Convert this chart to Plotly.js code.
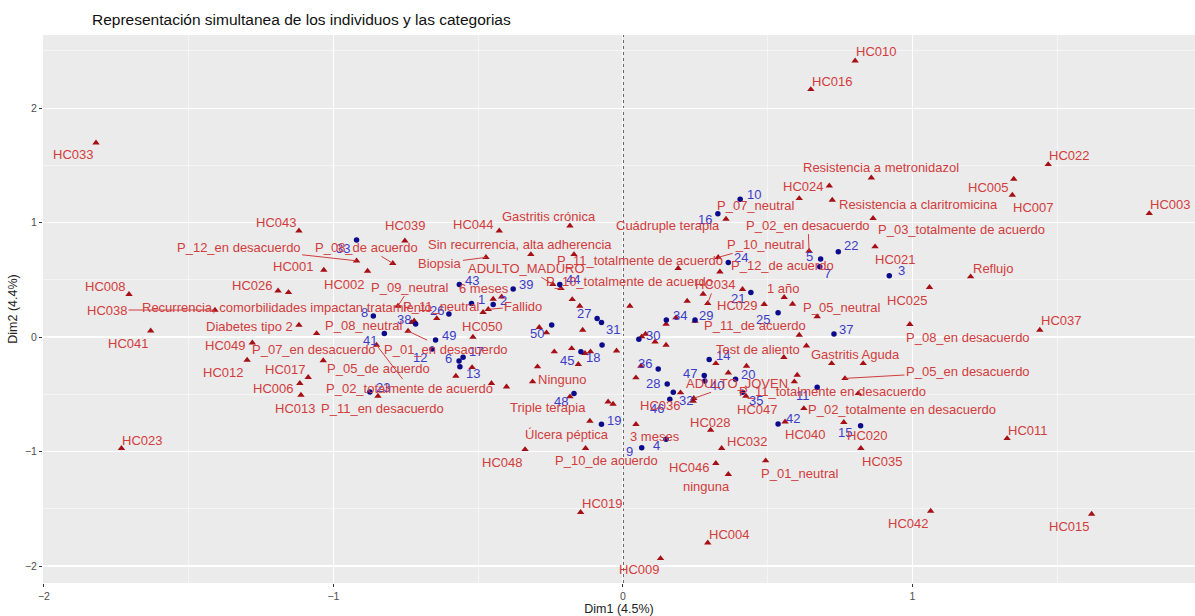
<!DOCTYPE html>
<html>
<head>
<meta charset="utf-8">
<script src="https://cdn.plot.ly/plotly-3.0.1.min.js"></script>
<style>html,body{margin:0;padding:0;background:#fff;}#chart{width:1195px;height:616px;}</style>
</head>
<body>
<div id="chart"></div>
<script>
// ---- Categories / supplementary individuals (red triangles) ----
const catNames = ["HC033","HC010","HC016","HC022","Resistencia a metronidazol","HC024","HC005","HC007","Resistencia a claritromicina","HC003",
"P_03_totalmente de acuerdo","HC021","Reflujo","HC025","P_08_en desacuerdo","HC037","P_05_neutral","P_02_en desacuerdo","Cuádruple terapia","P_07_neutral",
"P_10_neutral","P_12_de acuerdo","HC034","1 año","HC029","P_11_de acuerdo","Test de aliento","Gastritis Aguda","P_05_en desacuerdo","ADULTO_JOVEN",
"P_11_totalmente en desacuerdo","P_02_totalmente en desacuerdo","HC047","HC040","HC020","HC035","HC011","HC042","HC015","HC023",
"HC019","HC004","HC009","HC048","P_10_de acuerdo","Úlcera péptica","3 meses","HC028","HC032","HC046",
"ninguna","P_01_neutral","HC036","Triple terapia","Ninguno","HC050","Fallido","6 meses","ADULTO_MADURO","P_10_totalmente de acuerdo",
"P_11_totalmente de acuerdo","Sin recurrencia, alta adherencia","Biopsia","HC044","Gastritis crónica","HC039","HC043","P_12_en desacuerdo","P_08_de acuerdo","HC001",
"HC002","HC026","HC008","HC038","Recurrencia, comorbilidades impactan tratamiento","P_11_neutral","P_09_neutral","Diabetes tipo 2","P_08_neutral","P_01_en desacuerdo",
"HC041","HC049","P_07_en desacuerdo","P_02_totalmente de acuerdo","P_05_de acuerdo","HC017","HC012","HC006","HC013","P_11_en desacuerdo"];
const catDim1 = [-1.820,0.802,0.649,1.469,0.858,0.713,1.350,1.345,0.723,1.818,
0.864,0.871,1.201,1.059,0.991,1.440,0.671,0.643,0.356,0.609,
0.329,0.335,0.293,0.557,0.488,0.609,0.634,0.721,0.767,0.245,
0.813,0.625,0.425,0.560,0.763,0.822,1.327,1.063,1.619,-1.732,
-0.146,0.293,0.130,-0.338,-0.129,-0.114,0.045,0.303,0.341,0.321,
0.364,0.493,0.243,-0.051,-0.312,-0.518,-0.465,-0.419,-0.242,-0.214,
-0.169,-0.318,-0.473,-0.427,-0.183,-0.753,-1.119,-0.920,-0.795,-1.033,
-0.882,-1.191,-1.706,-1.409,-0.643,-0.721,-0.777,-1.119,-0.730,-0.742,
-1.631,-1.280,-1.058,-0.851,-1.035,-1.087,-1.298,-1.116,-1.112,-0.846];
const catDim2 = [1.697,2.413,2.163,1.508,1.391,1.321,1.380,1.240,1.197,1.080,
1.037,0.789,0.527,0.434,0.111,0.061,0.179,0.751,1.031,1.211,
0.696,0.570,0.294,0.347,0.286,0.017,-0.076,-0.230,-0.361,-0.535,
-0.492,-0.623,-0.515,-0.740,-0.745,-0.972,-0.885,-1.520,-1.546,-0.972,
-1.531,-1.797,-1.933,-0.981,-0.972,-0.734,-0.762,-0.812,-0.972,-1.103,
-1.199,-1.080,-0.559,-0.565,-0.390,0.000,0.242,0.352,0.460,0.425,
0.722,0.722,0.696,0.928,0.972,0.841,0.928,0.666,0.644,0.585,
0.576,0.404,0.373,0.236,0.163,0.142,0.271,0.105,0.128,0.052,
0.055,-0.050,0.032,-0.070,-0.205,-0.352,-0.201,-0.404,-0.507,-0.515];

// red triangles whose labels were hidden by overlap
const hiddenCatDim1 = [-1.155,0.191,0.277,0.222,0.413,0.586,0.024,0.249,0.149,0.183,
0.065,0.078,0.111,0.149,-0.175,-0.149,-0.139,-0.289,-0.264,-0.448,
-0.483,-0.112,-0.131,-0.022,-0.177,-0.237,-0.154,-0.295,-0.521,-0.577,
-0.454,-0.402,0.062,0.045,0.199,-0.183,-0.034,0.321,0.364,0.427,
0.602,0.592,0.556,0.830];
const hiddenCatDim2 = [0.390,0.600,0.376,0.314,0.417,0.288,0.271,0.140,0.114,0.169,
0.003,0.026,-0.041,-0.070,0.329,0.271,0.061,0.085,0.038,0.332,
0.216,-0.128,-0.142,-0.120,-0.099,-0.128,-0.238,-0.259,-0.265,-0.341,
-0.404,-0.434,-0.253,-0.355,-0.486,-0.521,-0.585,-0.230,-0.312,-0.253,
-0.332,-0.390,-0.177,-0.230];

// ---- Individuals (blue points) ----
const indNames = ["1","2","3","4","5","6","7","8","9","10","11","12","13","14","15","16","17","18","19","20",
"21","22","23","24","25","26","27","28","29","30","31","32","33","34","35","36","37","38","39","40",
"41","42","43","44","45","46","47","48","49","50"];
const indDim1 = [-0.523,-0.448,0.920,0.149,0.683,-0.566,0.680,-0.862,0.065,0.405,
0.671,-0.659,-0.563,0.298,0.821,0.328,-0.552,-0.072,-0.074,0.389,
0.442,0.744,-0.874,0.364,0.536,-0.601,-0.089,0.153,0.249,0.055,
-0.074,0.174,-0.920,0.150,0.413,0.122,0.729,-0.716,-0.379,0.283,
-0.824,0.536,-0.565,-0.218,-0.145,0.162,0.281,-0.169,-0.647,-0.246];
const indDim2 = [0.294,0.284,0.535,-0.893,0.681,-0.210,0.614,0.183,-0.967,1.203,
-0.439,-0.105,-0.259,-0.195,-0.775,1.077,-0.177,-0.070,-0.762,-0.369,
0.390,0.745,-0.480,0.652,0.212,0.201,0.163,-0.411,0.148,-0.020,
0.127,-0.483,0.847,0.148,-0.483,-0.279,0.026,0.114,0.419,-0.384,
0.032,-0.760,0.460,0.460,-0.128,-0.544,-0.336,-0.492,-0.026,0.105];

// ---- label placement (pixel offsets of label centre from its point; dy downwards) ----
const catLabelDX = [-23,21,21,21,10,-26,-26,21,86,21,
88,20,22,-23,58,21,24,-1,-58,-44,
47,63,7,-1,-27,-44,-48,24,123,43,
-26,98,11,20,23,21,21,-23,-23,21,
21,21,-22,-23,21,-23,19,-1,25,-27,
-22,34,-33,-60,29,9,35,-18,-26,69,
66,-11,-46,-26,-21,0,-23,-118,-26,-31,
-24,-26,-24,-108,-150,27,12,-49,-48,38,
-23,-27,-3,33,55,-23,-24,-27,-6,5];
const catLabelDY = [12,-9,-8,-9,-10,1,8,12,4,-9,
11,13,-8,13,13,-10,-9,-26,6,7,
-13,-6,-19,-9,1,-10,4,-9,-7,-15,
-2,1,13,13,13,13,-8,12,12,-8,
-9,-8,11,13,12,13,12,-8,-7,4,
12,13,4,6,-2,-11,-3,-8,-16,-7,
6,-10,6,-6,-9,-15,-8,-13,-16,-4,
13,-5,-8,0,-11,-14,-19,1,3,18,
13,3,16,43,8,-8,12,5,13,12];
const catSegment = ["P_02_en desacuerdo","P_10_neutral","HC034","P_05_en desacuerdo","ADULTO_JOVEN","Fallido","ADULTO_MADURO",
"Biopsia","P_12_en desacuerdo","P_08_de acuerdo","HC038","P_09_neutral","P_01_en desacuerdo","P_02_totalmente de acuerdo"];
const indLabelDX = [10,10,12,-10,-11,-11,8,-9,-12,14,-14,-12,13,14,-16,-13,13,-9,13,12,
-13,13,13,13,-15,-12,-13,-14,11,14,12,13,-14,14,14,-13,12,-12,13,12,
-14,15,13,13,-14,-13,-14,-13,13,-15];
const indLabelDY = [-4,-4,-5,6,-3,-3,7,-4,4,-5,8,8,7,-4,7,6,-6,12,-4,-5,
6,-6,-5,-5,7,-4,-5,-1,-5,-4,7,8,8,-5,8,-6,-5,-5,-5,4,
7,-6,-4,-5,9,9,-2,8,-5,8];

const RED_MARK = "#A50F15", RED_TEXT = "#D23C3C";
const BLUE_MARK = "#0B0B8C", BLUE_TEXT = "#3C3CC8";
const FONT = "Liberation Sans, Arial, sans-serif";

const traces = [
  {type:"scatter", mode:"markers", x:hiddenCatDim1, y:hiddenCatDim2, hoverinfo:"skip",
   marker:{symbol:"triangle-up", size:6.5, color:RED_MARK}},
  {type:"scatter", mode:"markers", x:catDim1, y:catDim2, hoverinfo:"skip",
   marker:{symbol:"triangle-up", size:6.5, color:RED_MARK}},
  {type:"scatter", mode:"markers", x:indDim1, y:indDim2, hoverinfo:"skip",
   marker:{symbol:"circle", size:5.5, color:BLUE_MARK}}
];

const annotations = [];
function addLabels(names, xs, ys, dxs, dys, color, segs) {
  for (let i = 0; i < names.length; i++) {
    const base = {x:xs[i], y:ys[i], xref:"x", yref:"y", text:names[i],
      xanchor:"center", yanchor:"middle",
      font:{family:FONT, size:13, color:color}};
    if (segs && segs.indexOf(names[i]) >= 0) {
      Object.assign(base, {showarrow:true, ax:dxs[i], ay:dys[i], axref:"pixel", ayref:"pixel",
        arrowhead:0, arrowwidth:1, arrowcolor:color, standoff:0, startstandoff:0});
    } else {
      Object.assign(base, {showarrow:false, xshift:dxs[i], yshift:-dys[i]});
    }
    annotations.push(base);
  }
}
addLabels(indNames, indDim1, indDim2, indLabelDX, indLabelDY, BLUE_TEXT, null);
addLabels(catNames, catDim1, catDim2, catLabelDX, catLabelDY, RED_TEXT, catSegment);

const axisCommon = {
  dtick:1, tick0:0, ticks:"outside", ticklen:3, tickwidth:1, tickcolor:"#333333",
  tickfont:{family:FONT, size:10.5, color:"#4D4D4D"},
  showgrid:true, gridcolor:"#FFFFFF", gridwidth:1.1, zeroline:false, showline:false,
  minor:{dtick:0.5, showgrid:true, gridcolor:"#FFFFFF", gridwidth:0.5, ticks:""},
  fixedrange:true
};

const layout = {
  width:1195, height:616,
  margin:{l:43, r:0, t:35, b:33},
  paper_bgcolor:"#FFFFFF", plot_bgcolor:"#EBEBEB",
  showlegend:false,
  title:{text:"Representación simultanea de los individuos y las categorias",
    xref:"container", yref:"container", x:92/1195, xanchor:"left", y:1-20/616, yanchor:"middle",
    font:{family:FONT, size:15.5, color:"#111111"}},
  xaxis:Object.assign({}, axisCommon, {range:[-2.003,1.976], tickvals:[-2,-1,0,1],
    title:{text:"Dim1 (4.5%)", standoff:2, font:{family:FONT, size:12.5, color:"#222222"}}}),
  yaxis:Object.assign({}, axisCommon, {range:[-2.148,2.638], tickvals:[-2,-1,0,1,2],
    title:{text:"Dim2 (4.4%)", standoff:4, font:{family:FONT, size:12.5, color:"#222222"}}}),
  shapes:[
    {type:"line", xref:"x", yref:"paper", x0:0, x1:0, y0:0, y1:1, layer:"below",
     line:{color:"#333333", width:1.6, dash:"3px,3px"}},
    {type:"line", xref:"paper", yref:"y", x0:0, x1:1, y0:0, y1:0, layer:"below",
     line:{color:"#333333", width:1.6, dash:"3px,3px"}}
  ],
  annotations:annotations
};

Plotly.newPlot("chart", traces, layout, {displayModeBar:false, staticPlot:true});
</script>
</body>
</html>
